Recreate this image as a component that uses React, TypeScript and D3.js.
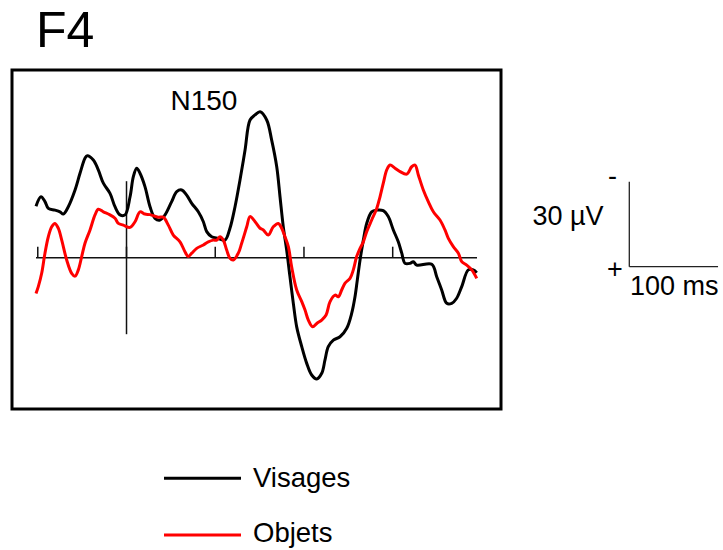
import React from "react";
import * as d3 from "d3";

const title = "F4";
const peakLabel = "N150";
const seriesNames = ["Visages", "Objets"];
const seriesColors = ["#000000", "#ff0000"];
const tickTimes = [-100, 0, 100, 200, 300];
const timeDomain = [-102, 395];
const scaleBarAmp = 30; // µV
const scaleBarTime = 100; // ms
const onsetRange = [-27, 27];

const visagesT = [-102, -96.4, -91.9, -88.1, -80.6, -75, -71.2, -65.6, -58, -52.4, -46.8, -44.2, -37.4, -31.8, -26.1, -18.6, -13, -7.3, -1.7, 4, 7.7, 11.5, 15.2, 20.8, 26.5, 32.1, 37.8, 43.4, 50.9, 56.6, 62.2, 67.8, 73.5, 80.9, 86.6, 90.4, 96, 103.5, 111, 116.6, 122.3, 127.9, 133.6, 139.2, 144.9, 150.5, 158, 163.6, 169.3, 173, 176.7, 180.5, 184.2, 188, 191.8, 197.5, 203.1, 208.7, 214.4, 220, 223.7, 227.4, 233.1, 240.6, 248.2, 253.8, 257.5, 260.1, 263.2, 266.9, 270.7, 276.3, 282, 289.4, 295, 300.7, 306.3, 310.2, 313.9, 319.5, 323.2, 327.1, 344, 349.6, 355.2, 360.9, 366.5, 372.1, 377.8, 385.2, 390.8, 394.7];
const visagesV = [-18.2, -21.5, -19.8, -17.4, -16.8, -16.2, -15.4, -18.0, -23.9, -29.8, -35.1, -36.0, -34.5, -31.0, -26.3, -22.7, -18.0, -15.1, -15.1, -21.5, -28.6, -31.6, -29.8, -25.1, -18.0, -13.9, -13.3, -15.1, -19.8, -23.3, -23.9, -22.1, -19.2, -16.2, -12.7, -9.2, -7.4, -6.8, -6.2, -10.4, -18.0, -27.4, -38.0, -48.6, -50.4, -51.5, -48.6, -41.5, -32.1, -21.5, -10.9, -2.7, 6.7, 16.1, 24.4, 31.4, 37.3, 41.4, 42.8, 40.8, 36.1, 31.4, 29.1, 27.9, 24.9, 19.6, 13.8, 7.9, 0.8, -6.2, -12.1, -16.2, -16.8, -16.6, -14.5, -9.8, -5.6, -1.6, 2.0, 2.0, 1.4, 2.6, 2.3, 6.7, 11.4, 16.1, 16.1, 14.3, 10.2, 4.3, 4.3, 5.3];

const objetsT = [-102, -99.4, -95.6, -91.9, -88.1, -84.3, -80.6, -76.9, -73, -67.4, -61.8, -58, -54.3, -50.5, -46.8, -41.1, -35.5, -31.8, -26.1, -18.6, -13, -9.2, -3.6, 4, 9.6, 15.2, 20.8, 26.5, 35.8, 41.5, 47.1, 52.7, 60.3, 65.9, 69.6, 73.5, 79.1, 86.6, 92.2, 97.8, 101.7, 105.4, 109.1, 112.9, 116.6, 120.4, 126, 129.8, 135.5, 139.2, 144.9, 150.5, 154.2, 159.8, 165.4, 171.1, 174.9, 178.6, 182.4, 186.1, 191.8, 197.5, 201.2, 204.9, 209.8, 214.4, 220, 224.9, 229.4, 235, 238.7, 242.5, 246.3, 251.9, 255.6, 259.4, 263.2, 266.9, 270.7, 276.3, 282, 285.7, 289.4, 293.3, 297, 302.6, 308.3, 315.8, 321.4, 325.2, 328.9, 334.5, 340.1, 345.8, 353.3, 358.9, 362.7, 368.3, 374, 377.8, 383.4, 389.1, 394.7];
const objetsV = [12.6, 10.2, 5.5, -1.6, -7.4, -10.9, -12.1, -10.4, -6.2, 0.8, 5.5, 6.5, 4.3, -0.4, -5.1, -9.8, -15.1, -17.1, -16.2, -15.1, -13.9, -12.1, -11.5, -10.7, -12.7, -16.2, -15.4, -15.2, -14.3, -14.3, -11.5, -8.0, -5.6, -2.1, -0.4, -1.6, -3.3, -4.5, -5.6, -6.2, -6.2, -7.4, -6.2, -2.7, 0.2, 0.8, -1.6, -5.1, -10.9, -14.5, -12.7, -10.4, -9.8, -8.0, -10.9, -12.1, -10.4, -7.4, -3.9, 3.2, 11.4, 15.5, 18.5, 22.0, 24.4, 23.2, 22.0, 20.2, 15.5, 13.2, 13.8, 11.4, 9.0, 7.3, 4.3, -0.4, -3.3, -5.6, -9.2, -13.3, -17.4, -21.5, -26.3, -31.0, -32.7, -31.6, -30.4, -29.5, -32.1, -32.7, -29.2, -23.9, -19.8, -16.2, -13.3, -9.8, -6.8, -3.9, -1.6, 1.4, 2.6, 4.3, 7.3];

const FONT = "'Liberation Sans', Arial, Helvetica, sans-serif";

export default function App() {
  const x = d3.scaleLinear().domain(timeDomain).range([36, 477]);
  const y = d3.scaleLinear().domain([0, 30]).range([257.7, 342.7]);

  const sbX0 = 629.3;
  const sbY0 = 266.7;
  const sbLen = (v: number) => y(v) - y(0);
  const sbTLen = (t: number) => x(t) - x(0);

  const line = d3
    .line<[number, number]>()
    .x((d) => x(d[0]))
    .y((d) => y(d[1]))
    .curve(d3.curveCatmullRom.alpha(0.5));

  const series = [
    visagesT.map((t, i) => [t, visagesV[i]] as [number, number]),
    objetsT.map((t, i) => [t, objetsV[i]] as [number, number]),
  ];

  return (
    <svg
      width={723}
      height={550}
      style={{ position: "absolute", left: 0, top: 0, display: "block", background: "#fff" }}
      fontFamily={FONT}
    >
      <rect x={0} y={0} width={723} height={550} fill="#fff" />
      <text x={36} y={47} fontSize={50} fill="#000">{title}</text>
      <rect x={12} y={70} width={489} height={339} fill="none" stroke="#000" strokeWidth={3} />
      <text x={170.5} y={110} fontSize={28} fill="#000">{peakLabel}</text>

      <line x1={x(timeDomain[0])} x2={x(timeDomain[1])} y1={y(0)} y2={y(0)} stroke="#111" strokeWidth={1.5} />
      {tickTimes.map((t) => (
        <line key={t} x1={x(t)} x2={x(t)} y1={y(0)} y2={y(0) - 11} stroke="#111" strokeWidth={1.5} />
      ))}
      <line x1={x(0)} x2={x(0)} y1={y(onsetRange[0])} y2={y(onsetRange[1])} stroke="#111" strokeWidth={1.5} />

      {series.map((s, i) => (
        <path key={i} d={line(s) || ""} fill="none" stroke={seriesColors[i]} strokeWidth={3} strokeLinejoin="round" />
      ))}

      <line x1={sbX0} x2={sbX0} y1={sbY0 + sbLen(-scaleBarAmp)} y2={sbY0} stroke="#222" strokeWidth={1.3} />
      <line x1={sbX0} x2={sbX0 + sbTLen(scaleBarTime)} y1={sbY0} y2={sbY0} stroke="#222" strokeWidth={1.3} />
      <text x={532.5} y={225} fontSize={27} fill="#000">30 µV</text>
      <text x={608} y={185} fontSize={27} fill="#000">-</text>
      <text x={607} y={278} fontSize={27} fill="#000">+</text>
      <text x={630} y={295} fontSize={27} fill="#000">100 ms</text>

      {seriesNames.map((n, i) => (
        <g key={n}>
          <line x1={164} x2={241} y1={478.3 + i * 56.7} y2={478.3 + i * 56.7} stroke={seriesColors[i]} strokeWidth={3} />
          <text x={253} y={487 + i * 55} fontSize={27.5} fill="#000">{n}</text>
        </g>
      ))}
    </svg>
  );
}
